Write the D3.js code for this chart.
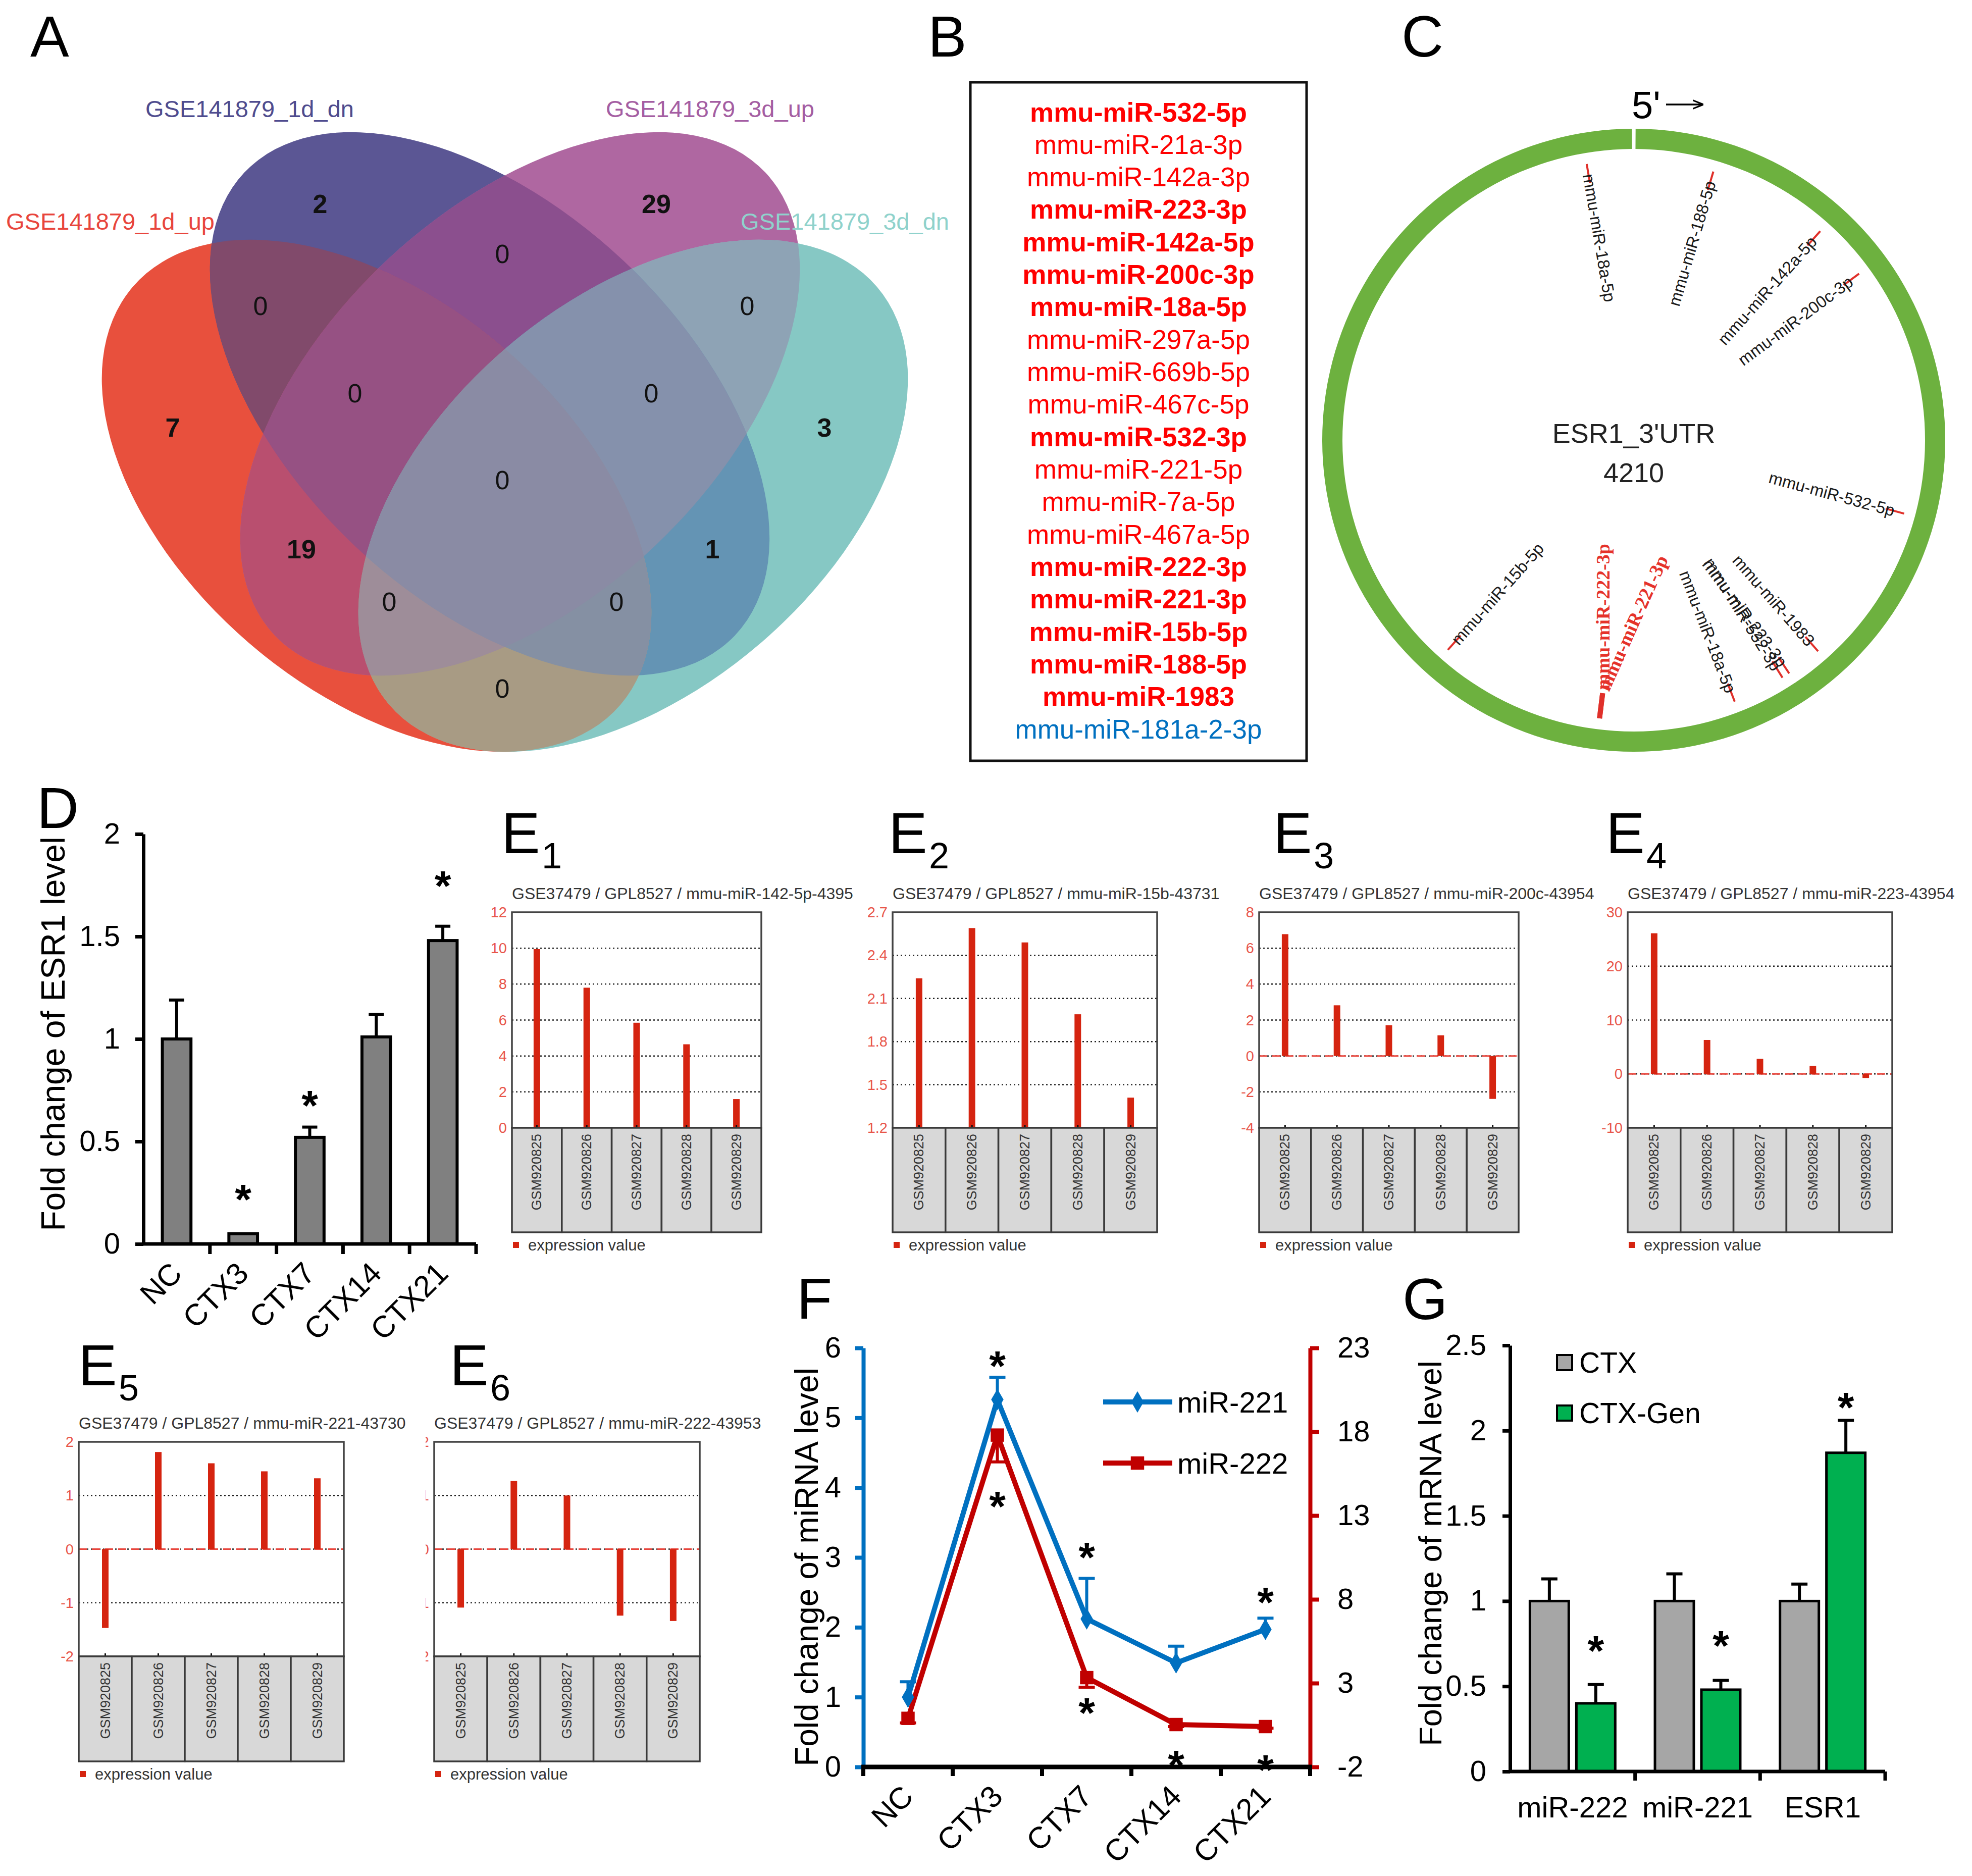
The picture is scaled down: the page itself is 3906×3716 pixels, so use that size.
<!DOCTYPE html>
<html>
<head>
<meta charset="utf-8">
<script src="https://cdn.jsdelivr.net/npm/d3@7"></script>
<style>
  body { margin: 0; background: #fff; }
  svg text { font-family: "Liberation Sans", Arial, Helvetica, sans-serif; }
</style>
</head>
<body>
<div id="fig"></div>
<script>
// ================= data =================
// A: Venn
const vennSetNames = ["GSE141879_1d_up", "GSE141879_1d_dn", "GSE141879_3d_up", "GSE141879_3d_dn"];
const vennRegionKeys = ["1000", "0100", "0010", "0001", "1100", "0110", "0011", "1010", "0101", "1001", "1110", "0111", "1011", "1101", "1111"];
const vennCounts = [7, 2, 29, 3, 0, 0, 0, 19, 1, 0, 0, 0, 0, 0, 0];

// B: predicted miRNAs
const targetMirs = ["mmu-miR-532-5p", "mmu-miR-21a-3p", "mmu-miR-142a-3p", "mmu-miR-223-3p", "mmu-miR-142a-5p",
  "mmu-miR-200c-3p", "mmu-miR-18a-5p", "mmu-miR-297a-5p", "mmu-miR-669b-5p", "mmu-miR-467c-5p", "mmu-miR-532-3p",
  "mmu-miR-221-5p", "mmu-miR-7a-5p", "mmu-miR-467a-5p", "mmu-miR-222-3p", "mmu-miR-221-3p", "mmu-miR-15b-5p",
  "mmu-miR-188-5p", "mmu-miR-1983", "mmu-miR-181a-2-3p"];
const targetBold = [1, 0, 0, 1, 1, 1, 1, 0, 0, 0, 1, 0, 0, 0, 1, 1, 1, 1, 1, 0];
const targetUp = [1, 1, 1, 1, 1, 1, 1, 1, 1, 1, 1, 1, 1, 1, 1, 1, 1, 1, 1, 0];

// C: binding sites on ESR1 3'UTR
const utrLength = 4210;
const siteNames = ["mmu-miR-188-5p", "mmu-miR-142a-5p", "mmu-miR-200c-3p", "mmu-miR-532-5p", "mmu-miR-1983",
  "mmu-miR-223-3p", "mmu-miR-532-3p", "mmu-miR-18a-5p", "mmu-miR-221-3p", "mmu-miR-222-3p", "mmu-miR-15b-5p", "mmu-miR-18a-5p"];
const sitePositions = [193, 488, 626, 1230, 1624, 1711, 1730, 1858, 2187, 2187, 2591, 4097];
const siteHighlight = [0, 0, 0, 0, 0, 0, 0, 0, 1, 1, 0, 0];

// D: ESR1 qPCR
const timeGroups = ["NC", "CTX3", "CTX7", "CTX14", "CTX21"];
const esr1Mean = [1.0, 0.05, 0.52, 1.01, 1.48];
const esr1Err = [0.19, 0.0, 0.05, 0.11, 0.07];
const esr1Star = [null, 0.26, 0.72, null, 1.79];

// E: GEO profiles
const geoSamples = ["GSM920825", "GSM920826", "GSM920827", "GSM920828", "GSM920829"];
const geoTitles = ["GSE37479 / GPL8527 / mmu-miR-142-5p-43953", "GSE37479 / GPL8527 / mmu-miR-15b-43731",
  "GSE37479 / GPL8527 / mmu-miR-200c-43954", "GSE37479 / GPL8527 / mmu-miR-223-43954",
  "GSE37479 / GPL8527 / mmu-miR-221-43730", "GSE37479 / GPL8527 / mmu-miR-222-43953"];
const geoE1 = [9.95, 7.8, 5.85, 4.65, 1.6];
const geoE2 = [2.24, 2.59, 2.49, 1.99, 1.41];
const geoE3 = [6.78, 2.82, 1.71, 1.15, -2.39];
const geoE4 = [26.1, 6.3, 2.8, 1.5, -0.75];
const geoE5 = [-1.47, 1.81, 1.6, 1.45, 1.32];
const geoE6 = [-1.09, 1.27, 1.0, -1.24, -1.34];
const geoDomains = [[0, 12], [1.2, 2.7], [-4, 8], [-10, 30], [-2, 2], [-2, 2]];
const geoTicks = [[0, 2, 4, 6, 8, 10, 12], [1.2, 1.5, 1.8, 2.1, 2.4, 2.7], [-4, -2, 0, 2, 4, 6, 8],
  [-10, 0, 10, 20, 30], [-2, -1, 0, 1, 2], [-2, -1, 0, 1, 2]];

// F: miRNA time course
const mir221 = [1.0, 5.26, 2.12, 1.49, 1.97];
const mir221Err = [0.22, 0.32, 0.58, 0.24, 0.16];
const mir221Star = [null, 5.87, 3.13, null, 2.49];
const mir222 = [0.9, 17.8, 3.33, 0.53, 0.41];
const mir222Err = [0.27, 1.6, 0.57, 0.12, 0.1];
const mir222Star = [null, 14.1, 1.77, -1.38, -1.64];
const fLeftTicks = [0, 1, 2, 3, 4, 5, 6];
const fRightTicks = [-2, 3, 8, 13, 18, 23];

// G: genistein
const gTargets = ["miR-222", "miR-221", "ESR1"];
const gSeries = ["CTX", "CTX-Gen"];
const gCtx = [1.0, 1.0, 1.0];
const gCtxErr = [0.13, 0.16, 0.10];
const gGen = [0.40, 0.48, 1.87];
const gGenErr = [0.11, 0.055, 0.19];
const gStar = [0.76, 0.79, 2.19];
const gTicks = [0, 0.5, 1, 1.5, 2, 2.5];

// ================= layout =================
const W = 3906, H = 3716;
const svg = d3.select("#fig").append("svg")
  .attr("width", W).attr("height", H)
  .attr("viewBox", `0 0 ${W} ${H}`);
svg.append("rect").attr("width", W).attr("height", H).attr("fill", "#fff");
const defs = svg.append("defs");

const panelLetters = [
  { t: "A", x: 60, y: 112 }, { t: "B", x: 1838, y: 112 }, { t: "C", x: 2776, y: 112 },
  { t: "D", x: 73, y: 1640 }, { t: "F", x: 1578, y: 2612 }, { t: "G", x: 2778, y: 2613 }
];
svg.selectAll(null).data(panelLetters).join("text")
  .attr("x", d => d.x).attr("y", d => d.y)
  .attr("font-size", 115).attr("fill", "#000")
  .text(d => d.t);

function star(g, x, yc, size) {
  g.append("text").attr("x", x).attr("y", yc + size * 0.56)
    .attr("text-anchor", "middle").attr("font-size", size).attr("font-weight", "bold")
    .text("*");
}

// ---------------- A: Venn ----------------
// ellipse outlines: centre x, centre y, semi-major, semi-minor, rotation (deg)
const vennEllipses = [
  [746, 982, 636, 386, 40.6],
  [970, 800, 668, 388, 43.3],
  [1030, 800, 668, 388, -43.3],
  [1254, 982, 636, 386, -40.6]
];
const vennColours = {
  "1000": "#E8503D", "0100": "#5B5694", "0010": "#AF67A1", "0001": "#86C8C4",
  "1100": "#814A6B", "0110": "#8B4F8E", "0011": "#8EA3B5", "1010": "#B94F6F",
  "0101": "#6494B4", "1001": "#A89B84", "1110": "#965183", "0111": "#8591AC",
  "1011": "#9E8D99", "1101": "#8590A3", "1111": "#8A8BA4"
};
const vennLabelAt = [[342, 847], [634, 404], [1300, 404], [1633, 847], [516, 606], [995, 503], [1480, 606],
  [597, 1088], [1411, 1088], [995, 1364], [703, 779], [1290, 779], [771, 1192], [1221, 1192], [995, 951]];
const ellT = e => `translate(${e[0]},${e[1]}) rotate(${e[4]})`;

vennEllipses.forEach((e, i) => {
  defs.append("clipPath").attr("id", "vc" + i)
    .append("ellipse").attr("rx", e[2]).attr("ry", e[3]).attr("transform", ellT(e));
});
const vennG = svg.append("g");
const popc = k => k.split("").filter(c => c === "1").length;
d3.range(vennRegionKeys.length)
  .sort((a, b) => popc(vennRegionKeys[a]) - popc(vennRegionKeys[b]))
  .forEach(r => {
    const key = vennRegionKeys[r];
    const idx = key.split("").map((c, j) => c === "1" ? j : -1).filter(j => j >= 0);
    let g = vennG;
    idx.slice(0, -1).forEach(j => { g = g.append("g").attr("clip-path", `url(#vc${j})`); });
    const e = vennEllipses[idx[idx.length - 1]];
    g.append("ellipse").attr("rx", e[2]).attr("ry", e[3]).attr("transform", ellT(e))
      .attr("fill", vennColours[key]);
  });
vennG.selectAll("text.cnt").data(vennCounts).join("text").attr("class", "cnt")
  .attr("x", (d, i) => vennLabelAt[i][0]).attr("y", (d, i) => vennLabelAt[i][1])
  .attr("text-anchor", "middle").attr("dominant-baseline", "central")
  .attr("font-size", 52).attr("font-weight", d => d > 0 ? "bold" : "normal")
  .attr("fill", "#111").text(d => d);
const vennNamePos = [{ x: 12, y: 438, c: "#E8453C" }, { x: 288, y: 215, c: "#4E4B8E" },
  { x: 1200, y: 215, c: "#A45DA2" }, { x: 1467, y: 438, c: "#8FD2CC" }];
vennG.selectAll("text.nm").data(vennSetNames).join("text").attr("class", "nm")
  .attr("x", (d, i) => vennNamePos[i].x).attr("y", (d, i) => vennNamePos[i].y)
  .attr("dominant-baseline", "central").attr("font-size", 47)
  .attr("fill", (d, i) => vennNamePos[i].c).text(d => d);

// ---------------- B: list ----------------
const bG = svg.append("g");
bG.append("rect").attr("x", 1922).attr("y", 163).attr("width", 666).attr("height", 1344)
  .attr("fill", "#fff").attr("stroke", "#111").attr("stroke-width", 5);
const by = d3.scalePoint().domain(d3.range(targetMirs.length)).range([222, 1444]);
bG.selectAll("text").data(targetMirs).join("text")
  .attr("x", 2255).attr("y", (d, i) => by(i))
  .attr("text-anchor", "middle").attr("dominant-baseline", "central")
  .attr("font-size", 53).attr("font-weight", (d, i) => targetBold[i] ? "bold" : "normal")
  .attr("fill", (d, i) => targetUp[i] ? "#FF0000" : "#0070C0")
  .text(d => d);

// ---------------- C: 3'UTR circle ----------------
const cG = svg.append("g").attr("transform", "translate(3236,872)");
const ang = d3.scaleLinear().domain([0, utrLength]).range([0, 2 * Math.PI]);
const gap = 0.006;
cG.append("path")
  .attr("d", d3.arc()({ innerRadius: 577, outerRadius: 617, startAngle: gap, endAngle: 2 * Math.PI - gap }))
  .attr("fill", "#6DB13F");
const siteLabelTilt = [0, 0, 0, 0, 0, -3, 0, 0, 17, -7, 0, 0];
const polar = (a, r) => [r * Math.sin(a), -r * Math.cos(a)];
sitePositions.forEach((p, i) => {
  const a = ang(p), hi = siteHighlight[i];
  const p1 = polar(a, hi ? 505 : 517), p2 = polar(a, 555);
  cG.append("line").attr("x1", p1[0]).attr("y1", p1[1]).attr("x2", p2[0]).attr("y2", p2[1])
    .attr("stroke", "#E0302A").attr("stroke-width", hi ? 10 : 4);
  const deg = a * 180 / Math.PI;
  const right = deg < 180;
  const rot = (right ? deg - 90 : deg + 90) + siteLabelTilt[i];
  const pa = polar(a, hi ? 498 : 535);
  cG.append("text")
    .attr("transform", `translate(${pa[0]},${pa[1]}) rotate(${rot})`)
    .attr("text-anchor", right ? "end" : "start").attr("dominant-baseline", "central")
    .attr("font-size", hi ? 38 : 33)
    .attr("font-weight", hi ? "bold" : "normal")
    .style("font-family", hi ? '"Liberation Serif", "Times New Roman", serif' : null)
    .attr("fill", hi ? "#E5322A" : "#1a1a1a")
    .text(siteNames[i]);
});
cG.append("text").attr("x", 0).attr("y", 5).attr("text-anchor", "middle")
  .attr("font-size", 54).attr("fill", "#222").text("ESR1_3'UTR");
cG.append("text").attr("x", 0).attr("y", 83).attr("text-anchor", "middle")
  .attr("font-size", 54).attr("fill", "#222").text(utrLength);
svg.append("text").attr("x", 3232).attr("y", 234).attr("font-size", 76).text("5'");
defs.append("marker").attr("id", "arrowHead").attr("viewBox", "0 0 10 10").attr("refX", 9).attr("refY", 5)
  .attr("markerWidth", 6).attr("markerHeight", 6).attr("orient", "auto")
  .append("path").attr("d", "M0,1 L10,5 L0,9").attr("fill", "none").attr("stroke", "#000").attr("stroke-width", 1.5);
svg.append("line").attr("x1", 3300).attr("x2", 3372).attr("y1", 207).attr("y2", 207)
  .attr("stroke", "#000").attr("stroke-width", 3.5).attr("marker-end", "url(#arrowHead)");

// ---------------- D: ESR1 bars ----------------
const dG = svg.append("g");
const dBand = d3.scaleBand().domain(timeGroups).range([284, 943]);
const dY = d3.scaleLinear().domain([0, 2]).range([2464, 1652]);
const dAxis = dG.append("g").attr("transform", "translate(284,0)")
  .call(d3.axisLeft(dY).tickValues([0, 0.5, 1, 1.5, 2]).tickSize(16).tickSizeOuter(0).tickPadding(30).tickFormat(d => String(d)));
dAxis.selectAll("path,line").attr("stroke", "#000").attr("stroke-width", 7);
dAxis.selectAll("text").attr("font-size", 58).attr("font-family", null).attr("fill", "#000");
const dBarW = dBand.bandwidth() * 0.43;
dG.selectAll("rect").data(esr1Mean).join("rect")
  .attr("x", (d, i) => dBand(timeGroups[i]) + (dBand.bandwidth() - dBarW) / 2)
  .attr("width", dBarW)
  .attr("y", d => dY(d)).attr("height", d => dY(0) - dY(d))
  .attr("fill", "#808080").attr("stroke", "#000").attr("stroke-width", 6);
esr1Mean.forEach((m, i) => {
  const cx = dBand(timeGroups[i]) + dBand.bandwidth() / 2;
  if (esr1Err[i] > 0) {
    dG.append("line").attr("x1", cx).attr("x2", cx).attr("y1", dY(m)).attr("y2", dY(m + esr1Err[i]))
      .attr("stroke", "#000").attr("stroke-width", 6);
    dG.append("line").attr("x1", cx - 15).attr("x2", cx + 15).attr("y1", dY(m + esr1Err[i])).attr("y2", dY(m + esr1Err[i]))
      .attr("stroke", "#000").attr("stroke-width", 6);
  }
  if (esr1Star[i] != null) star(dG, cx, dY(esr1Star[i]), 84);
});
dG.append("line").attr("x1", 281).attr("x2", 943).attr("y1", 2464).attr("y2", 2464)
  .attr("stroke", "#000").attr("stroke-width", 7);
dG.selectAll("line.tk").data(timeGroups).join("line").attr("class", "tk")
  .attr("x1", d => dBand(d) + dBand.bandwidth()).attr("x2", d => dBand(d) + dBand.bandwidth())
  .attr("y1", 2464).attr("y2", 2484).attr("stroke", "#000").attr("stroke-width", 7);
dG.selectAll("text.xl").data(timeGroups).join("text").attr("class", "xl")
  .attr("transform", d => `translate(${dBand(d) + dBand.bandwidth() / 2 + 14},${2464 + 62}) rotate(-45)`)
  .attr("text-anchor", "end").attr("font-size", 60).text(d => d);
dG.append("text").attr("transform", "translate(105,2048) rotate(-90)")
  .attr("text-anchor", "middle").attr("dominant-baseline", "central")
  .attr("font-size", 66).text("Fold change of ESR1 level");

// ---------------- E: GEO profiles ----------------
const geoValues = [geoE1, geoE2, geoE3, geoE4, geoE5, geoE6];
const geoLayout = [
  { left: 1014, right: 1508, top: 1807, bottom: 2234, boxBottom: 2441, clipL: 962, clipR: 1691, lx: 993, ly: 1690 },
  { left: 1768, right: 2292, top: 1807, bottom: 2234, boxBottom: 2441, clipL: 1719, clipR: 2437, lx: 1760, ly: 1690 },
  { left: 2494, right: 3008, top: 1807, bottom: 2234, boxBottom: 2441, clipL: 2450, clipR: 3162, lx: 2522, ly: 1690 },
  { left: 3224, right: 3748, top: 1807, bottom: 2234, boxBottom: 2441, clipL: 3162, clipR: 3900, lx: 3181, ly: 1690 },
  { left: 156, right: 681, top: 2856, bottom: 3281, boxBottom: 3489, clipL: 120, clipR: 829, lx: 155, ly: 2744 },
  { left: 860, right: 1386, top: 2856, bottom: 3281, boxBottom: 3489, clipL: 843, clipR: 1532, lx: 891, ly: 2744 }
];
function geoPanel(i) {
  const L = geoLayout[i], vals = geoValues[i], dom = geoDomains[i], tks = geoTicks[i];
  const cid = "geoclip" + i;
  defs.append("clipPath").attr("id", cid).append("rect")
    .attr("x", L.clipL).attr("y", L.top - 80).attr("width", L.clipR - L.clipL).attr("height", L.boxBottom - L.top + 140);
  const g = svg.append("g").attr("clip-path", `url(#${cid})`);
  const x = d3.scaleBand().domain(geoSamples).range([L.left, L.right]);
  const y = d3.scaleLinear().domain(dom).range([L.bottom, L.top]);
  g.append("text").attr("x", L.left).attr("y", L.top - 37).attr("dominant-baseline", "central")
    .attr("font-size", 32).attr("fill", "#333").text(geoTitles[i]);
  g.selectAll("line.grid").data(tks.filter(t => t > dom[0] && t < dom[1])).join("line").attr("class", "grid")
    .attr("x1", L.left).attr("x2", L.right).attr("y1", d => y(d)).attr("y2", d => y(d))
    .attr("stroke", "#222").attr("stroke-width", 2.5).attr("stroke-dasharray", "3 5");
  if (dom[0] < 0 && dom[1] > 0) {
    g.append("line").attr("x1", L.left).attr("x2", L.right).attr("y1", y(0)).attr("y2", y(0))
      .attr("stroke", "#E8453C").attr("stroke-width", 3).attr("stroke-dasharray", "16 10");
  }
  const base = Math.max(dom[0], 0);
  g.selectAll("rect.bar").data(vals).join("rect").attr("class", "bar")
    .attr("x", (d, j) => x(geoSamples[j]) + x.bandwidth() / 2 - 6.5).attr("width", 13)
    .attr("y", d => y(Math.max(d, base))).attr("height", d => Math.abs(y(d) - y(base)))
    .attr("fill", "#D52410");
  g.append("rect").attr("x", L.left).attr("y", L.top).attr("width", L.right - L.left).attr("height", L.bottom - L.top)
    .attr("fill", "none").attr("stroke", "#444").attr("stroke-width", 3.5);
  g.selectAll("line.ct").data(geoSamples).join("line").attr("class", "ct")
    .attr("x1", d => x(d) + x.bandwidth() / 2).attr("x2", d => x(d) + x.bandwidth() / 2)
    .attr("y1", L.bottom - 6).attr("y2", L.bottom).attr("stroke", "#111").attr("stroke-width", 3);
  g.selectAll("rect.box").data(geoSamples).join("rect").attr("class", "box")
    .attr("x", d => x(d)).attr("width", x.bandwidth())
    .attr("y", L.bottom).attr("height", L.boxBottom - L.bottom)
    .attr("fill", "#D8D8D8").attr("stroke", "#3a3a3a").attr("stroke-width", 3.5);
  g.selectAll("text.smp").data(geoSamples).join("text").attr("class", "smp")
    .attr("transform", d => `translate(${x(d) + x.bandwidth() / 2},${L.bottom + 12}) rotate(-90)`)
    .attr("text-anchor", "end").attr("dominant-baseline", "central")
    .attr("font-size", 27).attr("fill", "#333").text(d => d);
  g.selectAll("text.yt").data(tks).join("text").attr("class", "yt")
    .attr("x", L.left - 10).attr("y", d => y(d))
    .attr("text-anchor", "end").attr("dominant-baseline", "central")
    .attr("font-size", 29).attr("fill", "#E8554A").text(d => String(d));
  g.append("rect").attr("x", L.left + 2).attr("y", L.boxBottom + 19).attr("width", 12).attr("height", 12).attr("fill", "#D52410");
  g.append("text").attr("x", L.left + 32).attr("y", L.boxBottom + 25).attr("dominant-baseline", "central")
    .attr("font-size", 31).attr("fill", "#333").text("expression value");
  svg.append("text").attr("x", L.lx).attr("y", L.ly).attr("font-size", 115).text("E");
  svg.append("text").attr("x", L.lx + 80).attr("y", L.ly + 30).attr("font-size", 72).text(i + 1);
}
d3.range(6).forEach(geoPanel);

// ---------------- F: miRNA time course ----------------
const fG = svg.append("g");
const fX = d3.scaleBand().domain(timeGroups).range([1710, 2595]);
const fYL = d3.scaleLinear().domain([0, 6]).range([3500, 2670]);
const fYR = d3.scaleLinear().domain([-2, 23]).range([3500, 2670]);
const fc = d => fX(d) + fX.bandwidth() / 2;
const blue = "#0070C0", red = "#C00000";
const fl = fG.append("g").attr("transform", "translate(1710,0)")
  .call(d3.axisLeft(fYL).tickValues(fLeftTicks).tickSize(16).tickSizeOuter(0).tickPadding(28).tickFormat(d => String(d)));
fl.selectAll("path,line").attr("stroke", blue).attr("stroke-width", 8);
fl.selectAll("text").attr("font-size", 58).attr("font-family", null).attr("fill", "#000");
const fr = fG.append("g").attr("transform", "translate(2595,0)")
  .call(d3.axisRight(fYR).tickValues(fRightTicks).tickSize(18).tickSizeOuter(0).tickPadding(36).tickFormat(d => String(d)));
fr.selectAll("path,line").attr("stroke", red).attr("stroke-width", 8);
fr.selectAll("text").attr("font-size", 58).attr("font-family", null).attr("fill", "#000");
fG.append("line").attr("x1", 1706).attr("x2", 2599).attr("y1", 3500).attr("y2", 3500)
  .attr("stroke", "#000").attr("stroke-width", 9);
fG.selectAll("line.tk").data([timeGroups[0]].concat(timeGroups)).join("line").attr("class", "tk")
  .attr("x1", (d, i) => i === 0 ? fX(d) : fX(d) + fX.bandwidth())
  .attr("x2", (d, i) => i === 0 ? fX(d) : fX(d) + fX.bandwidth())
  .attr("y1", 3500).attr("y2", 3518).attr("stroke", "#000").attr("stroke-width", 8);

function errBars(g, vals, errs, yS, dir, colour) {
  vals.forEach((v, i) => {
    const cx = fc(timeGroups[i]);
    const ye = yS(v + dir * errs[i]);
    g.append("line").attr("x1", cx).attr("x2", cx).attr("y1", yS(v)).attr("y2", ye)
      .attr("stroke", colour).attr("stroke-width", 6);
    g.append("line").attr("x1", cx - 16).attr("x2", cx + 16).attr("y1", ye).attr("y2", ye)
      .attr("stroke", colour).attr("stroke-width", 6);
  });
}
errBars(fG, mir221, mir221Err, fYL, 1, blue);
errBars(fG, mir222, mir222Err, fYR, -1, red);
fG.append("path").datum(mir222)
  .attr("d", d3.line().x((d, i) => fc(timeGroups[i])).y(d => fYR(d)))
  .attr("fill", "none").attr("stroke", red).attr("stroke-width", 10).attr("stroke-linejoin", "round");
fG.append("path").datum(mir221)
  .attr("d", d3.line().x((d, i) => fc(timeGroups[i])).y(d => fYL(d)))
  .attr("fill", "none").attr("stroke", blue).attr("stroke-width", 10).attr("stroke-linejoin", "round");
fG.selectAll("path.m222").data(mir222).join("path").attr("class", "m222")
  .attr("transform", (d, i) => `translate(${fc(timeGroups[i])},${fYR(d)})`)
  .attr("d", d3.symbol().type(d3.symbolSquare).size(700)).attr("fill", red);
fG.selectAll("path.m221").data(mir221).join("path").attr("class", "m221")
  .attr("transform", (d, i) => `translate(${fc(timeGroups[i])},${fYL(d)})`)
  .attr("d", d3.symbol().type(d3.symbolDiamond).size(520)).attr("fill", blue);
mir221Star.forEach((s, i) => { if (s != null) star(fG, fc(timeGroups[i]), fYL(s), 84); });
mir222Star.forEach((s, i) => { if (s != null) star(fG, fc(timeGroups[i]), fYR(s), 84); });
fG.selectAll("text.xl").data(timeGroups).join("text").attr("class", "xl")
  .attr("transform", d => `translate(${fc(d) + 14},${3500 + 62}) rotate(-45)`)
  .attr("text-anchor", "end").attr("font-size", 60).text(d => d);
fG.append("text").attr("transform", "translate(1598,3104) rotate(-90)")
  .attr("text-anchor", "middle").attr("dominant-baseline", "central")
  .attr("font-size", 64).text("Fold change of miRNA level");
const fLegend = [{ name: "miR-221", c: blue, sym: d3.symbolDiamond, s: 520, y: 2777 },
  { name: "miR-222", c: red, sym: d3.symbolSquare, s: 700, y: 2898 }];
fLegend.forEach(l => {
  fG.append("line").attr("x1", 2185).attr("x2", 2322).attr("y1", l.y).attr("y2", l.y)
    .attr("stroke", l.c).attr("stroke-width", 10);
  fG.append("path").attr("transform", `translate(2253,${l.y})`)
    .attr("d", d3.symbol().type(l.sym).size(l.s)).attr("fill", l.c);
  fG.append("text").attr("x", 2332).attr("y", l.y).attr("dominant-baseline", "central")
    .attr("font-size", 58).text(l.name);
});

// ---------------- G: genistein bars ----------------
const gG = svg.append("g");
const gX0 = d3.scaleBand().domain(gTargets).range([2991, 3734]);
const gX1 = d3.scaleBand().domain(gSeries).range([0, gX0.bandwidth()]).paddingInner(0.163).paddingOuter(0.428);
const gY = d3.scaleLinear().domain([0, 2.5]).range([3509, 2665]);
const gColours = ["#A6A6A6", "#00B050"];
const gAx = gG.append("g").attr("transform", "translate(2991,0)")
  .call(d3.axisLeft(gY).tickValues(gTicks).tickSize(15).tickSizeOuter(0).tickPadding(32).tickFormat(d => String(d)));
gAx.selectAll("path,line").attr("stroke", "#000").attr("stroke-width", 7);
gAx.selectAll("text").attr("font-size", 58).attr("font-family", null).attr("fill", "#000");
const gMeans = [gCtx, gGen], gErrs = [gCtxErr, gGenErr];
gSeries.forEach((s, si) => {
  gTargets.forEach((t, ti) => {
    const x0 = gX0(t) + gX1(s), bw = gX1.bandwidth(), v = gMeans[si][ti], e = gErrs[si][ti];
    const cx = x0 + bw / 2;
    gG.append("line").attr("x1", cx).attr("x2", cx).attr("y1", gY(v)).attr("y2", gY(v + e))
      .attr("stroke", "#000").attr("stroke-width", 6);
    gG.append("line").attr("x1", cx - 16).attr("x2", cx + 16).attr("y1", gY(v + e)).attr("y2", gY(v + e))
      .attr("stroke", "#000").attr("stroke-width", 6);
    gG.append("rect").attr("x", x0).attr("width", bw).attr("y", gY(v)).attr("height", gY(0) - gY(v))
      .attr("fill", gColours[si]).attr("stroke", "#000").attr("stroke-width", 5);
    if (si === 1) star(gG, cx, gY(gStar[ti]), 84);
  });
});
gG.append("line").attr("x1", 2988).attr("x2", 3734).attr("y1", 3509).attr("y2", 3509)
  .attr("stroke", "#000").attr("stroke-width", 7);
gG.selectAll("line.tk").data(gTargets).join("line").attr("class", "tk")
  .attr("x1", d => gX0(d) + gX0.bandwidth()).attr("x2", d => gX0(d) + gX0.bandwidth())
  .attr("y1", 3509).attr("y2", 3527).attr("stroke", "#000").attr("stroke-width", 7);
gG.selectAll("text.xl").data(gTargets).join("text").attr("class", "xl")
  .attr("x", d => gX0(d) + gX0.bandwidth() / 2).attr("y", 3600)
  .attr("text-anchor", "middle").attr("font-size", 58).text(d => d);
gG.append("text").attr("transform", "translate(2833,3077) rotate(-90)")
  .attr("text-anchor", "middle").attr("dominant-baseline", "central")
  .attr("font-size", 63).text("Fold change of mRNA level");
gSeries.forEach((s, si) => {
  const yc = 2699 + si * 100;
  gG.append("rect").attr("x", 3084).attr("y", yc - 15).attr("width", 30).attr("height", 30)
    .attr("fill", gColours[si]).attr("stroke", "#000").attr("stroke-width", 4);
  gG.append("text").attr("x", 3128).attr("y", yc).attr("dominant-baseline", "central")
    .attr("font-size", 57).text(s);
});
</script>
</body>
</html>
